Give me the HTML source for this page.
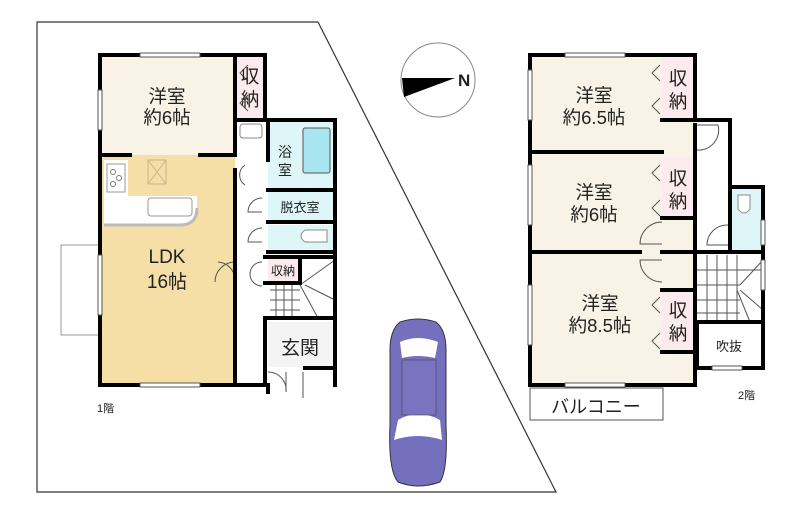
<!DOCTYPE html>
<html><head><meta charset="utf-8"><style>
html,body{margin:0;padding:0;background:#fff;}
svg{display:block;}
text{font-family:"Liberation Sans","Noto Sans CJK JP",sans-serif;fill:#222;}
</style></head><body>
<svg width="800" height="516" viewBox="0 0 800 516" xmlns="http://www.w3.org/2000/svg">
<polyline points="318,22 37,22 37,492 556,492 318,22" fill="none" stroke="#333" stroke-width="1.2"/>
<circle cx="438" cy="80" r="37" fill="none" stroke="#888" stroke-width="1"/>
<polygon points="402,78 455,78 404,97" fill="#000"/>
<text x="458" y="86" font-size="17" font-weight="bold" font-family="Liberation Serif">N</text>
<!-- LEFT PLAN -->
<rect x="61" y="245" width="40" height="90" fill="none" stroke="#999" stroke-width="1"/>
<rect x="100" y="55" width="135" height="100" fill="#f8f3e6"/>
<rect x="235" y="55" width="30" height="65" fill="#fbeaee"/>
<rect x="100" y="155" width="135" height="230" fill="#f5dfa6"/>
<path d="M104,160 H128 V196 H197 V208 Q197,225 180,225 H104 Z" fill="#fff"/>
<path d="M104,225 H180 Q197,225 197,208" fill="none" stroke="#bbb" stroke-width="3"/>
<rect x="107" y="164" width="18" height="28" fill="#fff" stroke="#999"/>
<circle cx="113" cy="172" r="2.5" fill="none" stroke="#777"/><circle cx="119" cy="178" r="2.5" fill="none" stroke="#777"/><circle cx="113" cy="184" r="2.5" fill="none" stroke="#777"/>
<rect x="148" y="198" width="44" height="18" rx="3" fill="#fff" stroke="#999"/>
<rect x="148" y="160" width="18" height="24" fill="none" stroke="#c9b38a"/>
<path d="M148,160 L166,184 M166,160 L148,184" stroke="#c9b38a"/>
<rect x="235" y="120" width="33" height="265" fill="#fff"/>
<rect x="268" y="120" width="67" height="70" fill="#dff6f8"/>
<rect x="303" y="128" width="27" height="45" rx="2" fill="#a7e6f0" stroke="#555"/>
<rect x="240" y="124" width="22" height="14" rx="3" fill="#fff" stroke="#888"/>
<rect x="268" y="190" width="65" height="32" fill="#dff6f8"/>
<rect x="268" y="225" width="65" height="27" fill="#dff6f8"/>
<path d="M305,230 h22 v12 h-22 q-8,-6 0,-12z" fill="#fff" stroke="#888"/>
<rect x="268" y="257" width="32" height="26" fill="#fbeaee"/>
<g stroke="#555" stroke-width="1">
<line x1="270" y1="290" x2="300" y2="290"/><line x1="270" y1="300" x2="300" y2="300"/><line x1="270" y1="310" x2="300" y2="310"/>
<line x1="276" y1="285" x2="276" y2="318"/><line x1="284" y1="285" x2="284" y2="318"/><line x1="292" y1="285" x2="292" y2="318"/>
<line x1="300" y1="285" x2="335" y2="260"/><line x1="305" y1="285" x2="335" y2="300"/><line x1="300" y1="285" x2="318" y2="318"/>
</g>
<rect x="268" y="322" width="65" height="45" fill="#f4f4f4"/>
<g fill="none" stroke="#555" stroke-width="1">
<path d="M235,262 A20,20 0 0 0 215,282"/><path d="M218,262 A18,18 0 0 1 235,280"/>
<path d="M245,165 A12,12 0 0 0 245,185"/><path d="M262,198 A14,14 0 0 0 248,212 H262"/><path d="M262,228 A14,14 0 0 0 248,242 H262"/>
<path d="M262,262 A12,12 0 0 0 250,274 A12,12 0 0 0 262,286"/>
<path d="M268,372 A18,18 0 0 1 286,392 V372"/><path d="M303,372 V398"/>
<path d="M248,65 l-8,8 l8,8 M248,95 l-8,8 l8,8"/>
</g>
<g stroke="#000" stroke-width="4" fill="none" stroke-linecap="square">
<path d="M100,55 H265 V120 M100,55 V385 H268 V392 M235,55 V155 M100,155 H130 M200,155 H235 M235,170 V385"/>
<path d="M235,120 H335 V257 M268,120 V160 M268,190 H335 M268,222 H335 M268,252 H335 M265,257 H335 M300,257 V283 M265,283 H300 M335,257 V385 M265,318 H335 M265,318 V385 M305,368 H335"/>
</g>
<g stroke="#555" stroke-width="1" fill="#fff"><rect x="140" y="53" width="60" height="4"/><rect x="140" y="383" width="60" height="4"/><rect x="98" y="90" width="4" height="40"/><rect x="98" y="255" width="4" height="60"/></g>
<text x="167" y="103" font-size="18.5" text-anchor="middle">洋室</text>
<text x="167" y="124" font-size="18.5" text-anchor="middle">約6帖</text>
<text x="250" y="83" font-size="18.5" text-anchor="middle">収</text>
<text x="250" y="106" font-size="18.5" text-anchor="middle">納</text>
<text x="167" y="263" font-size="19" text-anchor="middle">LDK</text>
<text x="167" y="288" font-size="19" text-anchor="middle">16帖</text>
<text x="285" y="157" font-size="14" text-anchor="middle">浴</text>
<text x="285" y="175" font-size="14" text-anchor="middle">室</text>
<text x="300" y="212" font-size="13" text-anchor="middle">脱衣室</text>
<text x="283" y="275" font-size="12" text-anchor="middle">収納</text>
<text x="300" y="354" font-size="19" text-anchor="middle">玄関</text>
<text x="97" y="412" font-size="11">1階</text>
<!-- car -->
<g>
<path d="M400,322 Q418,316 436,322 Q446,330 446,350 L446,425 Q448,470 440,482 Q418,490 398,482 Q388,470 390,425 L390,350 Q390,330 400,322Z" fill="#7570bd" stroke="#333"/>
<path d="M400,342 Q418,334 438,342 L435,358 Q418,354 402,358Z" fill="#fff"/>
<path d="M398,420 Q418,408 440,420 L442,440 Q418,432 394,440Z" fill="#fff"/>
<rect x="402" y="360" width="34" height="55" fill="#7a74c0" stroke="#444" stroke-width="0.6"/>
</g>
<!-- RIGHT PLAN -->
<rect x="530" y="55" width="165" height="330" fill="#f8f3e6"/>
<rect x="662" y="58" width="33" height="62" fill="#fbeaee"/>
<rect x="662" y="158" width="33" height="60" fill="#fbeaee"/>
<rect x="662" y="290" width="33" height="62" fill="#fbeaee"/>
<rect x="695" y="120" width="35" height="132" fill="#fff"/>
<rect x="730" y="187" width="33" height="65" fill="#dff6f8"/>
<path d="M738,195 h12 v14 q-6,8 -12,0z" fill="#fff" stroke="#888"/>
<rect x="697" y="255" width="66" height="67" fill="#fff"/>
<g stroke="#555" stroke-width="1">
<line x1="697" y1="270" x2="763" y2="270"/><line x1="697" y1="285" x2="740" y2="285"/><line x1="697" y1="300" x2="740" y2="300"/><line x1="697" y1="313" x2="740" y2="313"/>
<line x1="707" y1="255" x2="707" y2="322"/><line x1="717" y1="255" x2="717" y2="322"/><line x1="727" y1="255" x2="727" y2="322"/><line x1="737" y1="255" x2="737" y2="322"/>
<line x1="740" y1="285" x2="763" y2="260"/><line x1="740" y1="290" x2="763" y2="310"/><line x1="737" y1="290" x2="750" y2="322"/>
</g>
<g fill="none" stroke="#555" stroke-width="1">
<path d="M697,125 H718 A20,20 0 0 1 697,150"/><path d="M728,225 A20,20 0 0 0 707,245 H728"/>
<path d="M662,222 A22,22 0 0 0 640,244 H662"/><path d="M662,282 A22,22 0 0 1 640,260 H662"/>
<path d="M660,65 l-8,8 l8,8 M660,98 l-8,8 l8,8 M660,165 l-8,8 l8,8 M660,200 l-8,8 l8,8 M660,297 l-8,8 l8,8 M660,333 l-8,8 l8,8"/>
<rect x="530" y="388" width="133" height="32"/>
</g>
<g stroke="#000" stroke-width="4" fill="none" stroke-linecap="square">
<path d="M530,55 H695 V120 H730 V187 H763 V252 M530,55 V385 H695 V125"/>
<path d="M530,152 H662 M530,252 H640 M662,252 H695 M662,120 H695 M662,218 H695 V152 M662,290 H695 V352 H662"/>
<path d="M697,252 H763 M730,187 V252 M697,322 H763 M697,322 V368 H763 V252"/>
</g>
<g stroke="#555" stroke-width="1" fill="#fff"><rect x="565" y="53" width="60" height="4"/><rect x="565" y="383" width="60" height="4"/><rect x="528" y="70" width="4" height="50"/><rect x="528" y="165" width="4" height="60"/><rect x="528" y="285" width="4" height="60"/><rect x="712" y="366" width="30" height="4"/><rect x="761" y="220" width="4" height="25"/><rect x="761" y="260" width="4" height="30"/></g>
<text x="594" y="102" font-size="18.5" text-anchor="middle">洋室</text>
<text x="594" y="124" font-size="18.5" text-anchor="middle">約6.5帖</text>
<text x="594" y="199" font-size="18.5" text-anchor="middle">洋室</text>
<text x="594" y="221" font-size="18.5" text-anchor="middle">約6帖</text>
<text x="600" y="310" font-size="18.5" text-anchor="middle">洋室</text>
<text x="600" y="332" font-size="18.5" text-anchor="middle">約8.5帖</text>
<text x="678" y="85" font-size="18.5" text-anchor="middle">収</text><text x="678" y="108" font-size="18.5" text-anchor="middle">納</text>
<text x="678" y="185" font-size="18.5" text-anchor="middle">収</text><text x="678" y="208" font-size="18.5" text-anchor="middle">納</text>
<text x="678" y="317" font-size="18.5" text-anchor="middle">収</text><text x="678" y="340" font-size="18.5" text-anchor="middle">納</text>
<text x="729" y="351" font-size="13" text-anchor="middle">吹抜</text>
<text x="596" y="413" font-size="18" text-anchor="middle">バルコニー</text>
<text x="738" y="399" font-size="11">2階</text>
</svg>
</body></html>
